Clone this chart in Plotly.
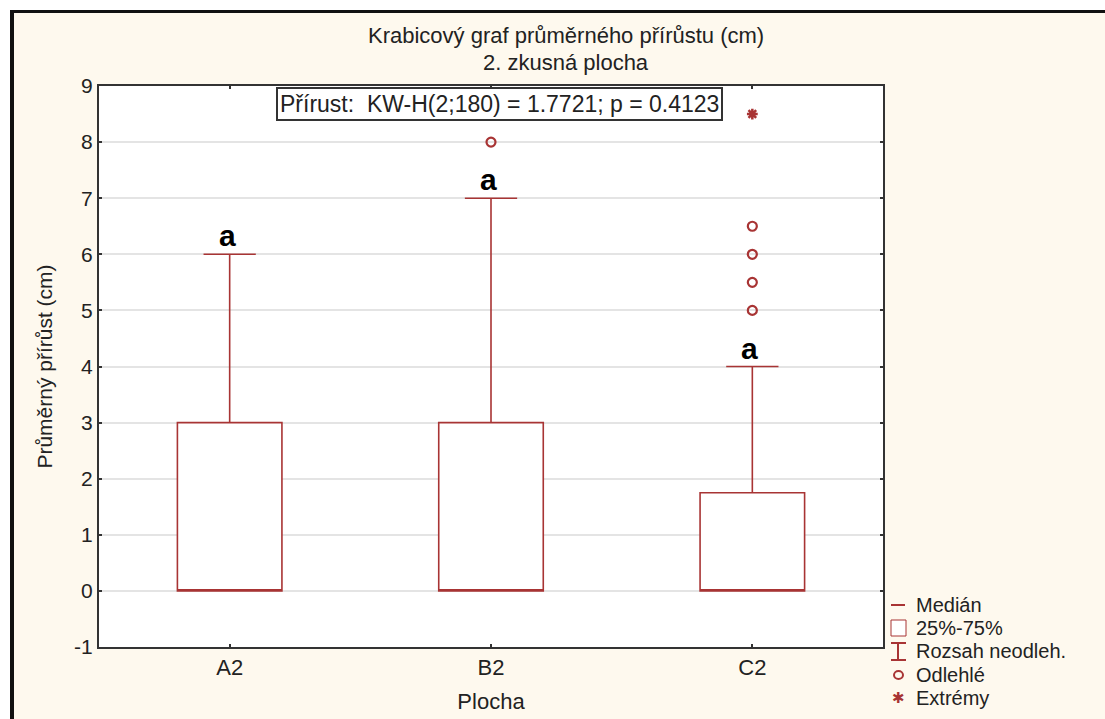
import plotly.graph_objects as go

# ---- data ----
categories = ["A2", "B2", "C2"]
q1 = [0, 0, 0]
median = [0, 0, 0]
q3 = [3, 3, 1.75]
lower_fence = [0, 0, 0]
upper_fence = [6, 7, 4]
outlier_cat = ["B2", "C2", "C2", "C2", "C2"]
outlier_val = [8, 5, 5.5, 6, 6.5]
extreme_cat = ["C2"]
extreme_val = [8.5]
group_letters = ["a", "a", "a"]
y_ticks = [-1, 0, 1, 2, 3, 4, 5, 6, 7, 8, 9]
y_tick_text = ["-1", "0", "1", "2", "3", "4", "5", "6", "7", "8", "9"]
legend_labels = ["Medián", "25%-75%", "Rozsah neodleh.", "Odlehlé", "Extrémy"]

RED = "#A83434"
CREAM = "#FEF9EE"
FONT = "Liberation Sans, Arial, sans-serif"

W, H = 1105, 719
ML, MR, MT, MB = 99, 222, 86, 72
PW, PH = W - ML - MR, H - MT - MB


def px(xp):
    return (xp - ML) / PW


def py(yp):
    return (H - MB - yp) / PH


cat_idx = {c: i for i, c in enumerate(categories)}

fig = go.Figure()
fig.add_trace(go.Box(
    x=[cat_idx[c] for c in categories], q1=q1, median=median, q3=q3,
    lowerfence=lower_fence, upperfence=upper_fence,
    width=0.4, whiskerwidth=0.5, boxpoints=False,
    line=dict(color=RED, width=1.6), fillcolor="white",
    showlegend=False, hoverinfo="skip",
))
fig.add_trace(go.Scatter(
    x=[cat_idx[c] for c in outlier_cat], y=outlier_val, mode="markers",
    marker=dict(symbol="circle-open", size=9, color=RED, line=dict(width=2.2, color=RED)),
    showlegend=False, hoverinfo="skip",
))
fig.add_trace(go.Scatter(
    x=[cat_idx[c] for c in extreme_cat], y=extreme_val, mode="markers",
    marker=dict(symbol="asterisk-open", size=9, color=RED, line=dict(width=2.5, color=RED)),
    showlegend=False, hoverinfo="skip",
))

annotations = []
for c, uf, lt in zip(categories, upper_fence, group_letters):
    annotations.append(dict(
        x=cat_idx[c] - 0.01, y=uf, xref="x", yref="y", text="<b>" + lt + "</b>",
        showarrow=False, yanchor="bottom", yshift=0,
        font=dict(family=FONT, size=30, color="black"),
    ))

# title
annotations.append(dict(
    x=px(566), y=py(35), xref="paper", yref="paper", xanchor="center", yanchor="middle",
    text="Krabicový graf průměrného přírůstu (cm)", showarrow=False,
    font=dict(family=FONT, size=22, color="#222"),
))
annotations.append(dict(
    x=px(566), y=py(62), xref="paper", yref="paper", xanchor="center", yanchor="middle",
    text="2. zkusná plocha", showarrow=False,
    font=dict(family=FONT, size=22, color="#222"),
))
# KW test box
annotations.append(dict(
    x=px(499), y=py(104), xref="paper", yref="paper", xanchor="center", yanchor="middle",
    text="Přírust:  KW-H(2;180) = 1.7721; p = 0.4123", showarrow=False,
    font=dict(family=FONT, size=23, color="#222"),
    bgcolor="white", bordercolor="#333", borderwidth=2, borderpad=2,
))

# legend (manual)
leg_y = [605, 628, 651, 675, 698]
for lab, yy in zip(legend_labels, leg_y):
    annotations.append(dict(
        x=px(914), y=py(yy), xref="paper", yref="paper", text=lab,
        showarrow=False, xanchor="left", yanchor="middle",
        font=dict(family=FONT, size=20, color="#222"),
    ))
annotations.append(dict(
    x=px(898), y=py(698), xref="paper", yref="paper", text="✱",
    showarrow=False, xanchor="center", yanchor="middle",
    font=dict(family="DejaVu Sans", size=15, color=RED),
))

shapes = []
# outer frame: white margin + black border lines
shapes.append(dict(type="rect", xref="paper", yref="paper", x0=px(0), x1=px(W), y0=py(0), y1=py(11),
                   fillcolor="white", line=dict(width=0), layer="below"))
shapes.append(dict(type="rect", xref="paper", yref="paper", x0=px(0), x1=px(10), y0=py(0), y1=py(H),
                   fillcolor="white", line=dict(width=0), layer="below"))
shapes.append(dict(type="rect", xref="paper", yref="paper", x0=px(10), x1=px(W), y0=py(10), y1=py(13),
                   fillcolor="#111", line=dict(width=0), layer="above"))
shapes.append(dict(type="rect", xref="paper", yref="paper", x0=px(10), x1=px(14), y0=py(10), y1=py(H),
                   fillcolor="#111", line=dict(width=0), layer="above"))
# legend symbols
lc = dict(color=RED, width=2)
shapes.append(dict(type="line", xref="paper", yref="paper", x0=px(891), x1=px(905), y0=py(605), y1=py(605), line=lc))
shapes.append(dict(type="rect", xref="paper", yref="paper", x0=px(891), x1=px(906), y0=py(620), y1=py(636),
                   line=dict(color=RED, width=1), fillcolor="white"))
shapes.append(dict(type="line", xref="paper", yref="paper", x0=px(898), x1=px(898), y0=py(643), y1=py(660), line=lc))
shapes.append(dict(type="line", xref="paper", yref="paper", x0=px(891), x1=px(906), y0=py(643), y1=py(643), line=lc))
shapes.append(dict(type="line", xref="paper", yref="paper", x0=px(891), x1=px(906), y0=py(660), y1=py(660), line=lc))
shapes.append(dict(type="circle", xref="paper", yref="paper", x0=px(894), x1=px(903), y0=py(671), y1=py(679),
                   line=dict(color=RED, width=2)))

fig.update_layout(
    width=W, height=H,
    margin=dict(l=ML, r=MR, t=MT, b=MB, autoexpand=False),
    paper_bgcolor=CREAM, plot_bgcolor="white",
    font=dict(family=FONT, color="#222"),
    showlegend=False,
    annotations=annotations, shapes=shapes,
    xaxis=dict(
        range=[-0.5, 2.5], tickvals=list(range(len(categories))), ticktext=categories,
        showgrid=False, zeroline=False, automargin=False,
        showline=True, mirror="ticks", linecolor="#333", linewidth=2,
        ticks="inside", ticklen=3, tickcolor="#333", tickwidth=2,
        tickfont=dict(size=22, color="#222"),
        title=dict(text="Plocha", font=dict(size=22, color="#222"), standoff=14),
    ),
    yaxis=dict(
        range=[-1, 9], tickvals=y_ticks, ticktext=y_tick_text,
        showgrid=True, gridcolor="#E4E4E4", gridwidth=1.5,
        zeroline=False, automargin=False,
        showline=True, mirror="ticks", linecolor="#333", linewidth=2,
        ticks="inside", ticklen=3, tickcolor="#333", tickwidth=2,
        tickfont=dict(size=21, color="#222"),
        title=dict(text="Průměrný přírůst (cm)", font=dict(size=21, color="#222"), standoff=16),
    ),
)

fig.write_html("out.html")
